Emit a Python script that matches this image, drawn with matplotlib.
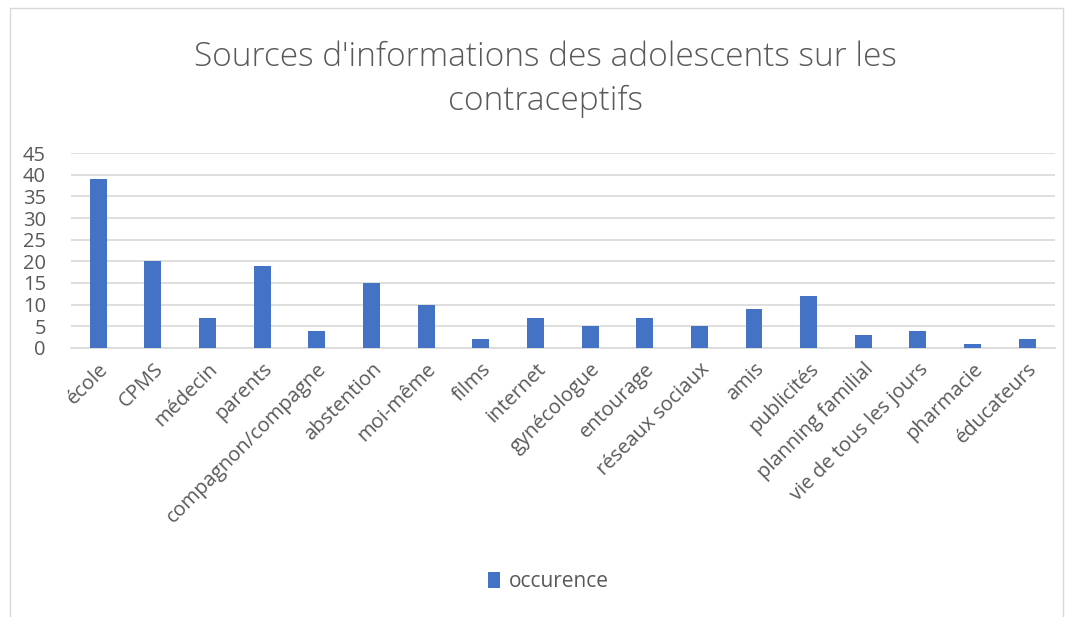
import matplotlib.pyplot as plt
from matplotlib.patches import Rectangle

plt.rcParams['font.family'] = ['Open Sans', 'DejaVu Sans']

categories = ['école', 'CPMS', 'médecin', 'parents', 'compagnon/compagne',
              'abstention', 'moi-même', 'films', 'internet', 'gynécologue',
              'entourage', 'réseaux sociaux', 'amis', 'publicités',
              'planning familial', 'vie de tous les jours', 'pharmacie', 'éducateurs']
occurence = [39, 20, 7, 19, 4, 15, 10, 2, 7, 5, 7, 5, 9, 12, 3, 4, 1, 2]

txt = '#595959'
blue = '#4472C4'

fig = plt.figure(figsize=(10.75, 6.17), dpi=100)
ax = fig.add_axes([0.066, 0.436, 0.915, 0.316])

x = range(len(categories))
ax.bar(x, occurence, width=0.31, color=blue, label='occurence', zorder=3)

ax.set_ylim(0, 45)
ax.set_yticks(range(0, 46, 5))
ax.set_xlim(-0.5, len(categories) - 0.5)
ax.grid(axis='y', color='#D9D9D9', linewidth=1.2, zorder=0)
ax.set_xticks(list(x))
ax.set_xticklabels(categories, rotation=45, ha='right', rotation_mode='anchor')
ax.tick_params(axis='both', length=0, colors=txt, labelsize=14.5)
ax.tick_params(axis='x', pad=8)
ax.tick_params(axis='y', pad=18)
for s in ['top', 'right', 'left']:
    ax.spines[s].set_visible(False)
ax.spines['bottom'].set_color('#D9D9D9')
ax.spines['bottom'].set_linewidth(1.2)

fig.text(0.507, 0.872, "Sources d'informations des adolescents sur les\ncontraceptifs",
         ha='center', va='center', fontsize=24, color=txt, fontweight='light',
         linespacing=1.4)

fig.legend(loc='center', bbox_to_anchor=(0.51, 0.057), frameon=False,
           fontsize=15, labelcolor=txt, handlelength=0.6, handleheight=0.8,
           handletextpad=0.4)

fig.patches.append(Rectangle((0.009, -0.01), 0.98, 0.997, transform=fig.transFigure,
                             fill=False, edgecolor='#D9D9D9', linewidth=1))

fig.savefig('out.png', dpi=100)
